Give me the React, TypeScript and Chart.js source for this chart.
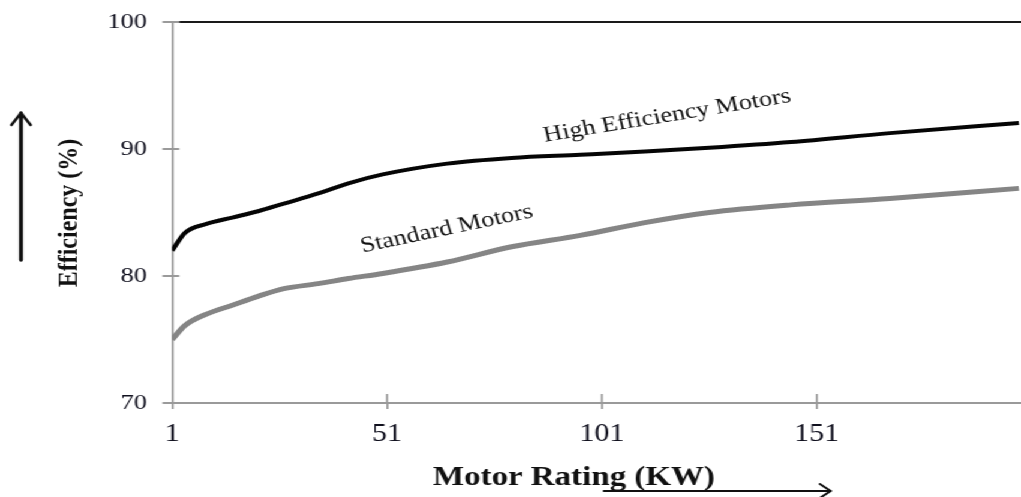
import React, { useEffect, useRef } from 'react';
import { Chart, registerables } from 'chart.js';

Chart.register(...registerables);

// ---- data ----
const ratingKW = [1, 4, 9, 15, 21, 27, 35, 42, 50, 65, 80, 96, 111, 126, 145, 168, 198];
const highEfficiency = [82.0, 83.4, 84.1, 84.6, 85.1, 85.7, 86.5, 87.3, 88.0, 88.85, 89.3, 89.55, 89.8, 90.1, 90.55, 91.25, 92.05];
const standardMotors = [75.0, 76.1, 77.0, 77.7, 78.4, 79.0, 79.4, 79.8, 80.2, 81.1, 82.3, 83.2, 84.2, 85.0, 85.6, 86.1, 86.9];
const xTickValues = [1, 51, 101, 151];
const yTickValues = [70, 80, 90, 100];
const xLabel = 'Motor Rating (KW)';
const yLabel = 'Efficiency (%)';
const highLabel = 'High Efficiency Motors';
const standardLabel = 'Standard Motors';

const W = 851;
const H = 497;
const STRETCH = 1021 / W;
const SERIF = '"Liberation Serif", "Times New Roman", serif';

const decor = {
  id: 'decor',
  afterDraw(chart: any) {
    const { ctx, chartArea: a, scales } = chart;
    const x = scales.x;
    const y = scales.y;
    const line = (x1: number, y1: number, x2: number, y2: number) => {
      ctx.beginPath();
      ctx.moveTo(x1, y1);
      ctx.lineTo(x2, y2);
      ctx.stroke();
    };
    ctx.save();
    // inner halves of the crossing tick marks
    ctx.strokeStyle = '#9a9a9a';
    ctx.lineWidth = 2;
    yTickValues.forEach((v) => {
      const py = y.getPixelForValue(v);
      line(a.left, py, a.left + 6, py);
    });
    ctx.lineWidth = 1.7;
    xTickValues.forEach((v) => {
      const px = x.getPixelForValue(v);
      if (px > a.left + 2) line(px, a.bottom, px, a.bottom - 9);
    });
    // top border
    ctx.strokeStyle = '#1a1a1a';
    ctx.lineWidth = 2;
    line(a.left + 6, a.top, a.right, a.top);

    // curve labels
    ctx.fillStyle = '#111';
    ctx.textAlign = 'center';
    ctx.textBaseline = 'middle';
    ctx.font = `22px ${SERIF}`;
    const label = (t: string, xv: number, yv: number, deg: number) => {
      ctx.save();
      ctx.translate(x.getPixelForValue(xv), y.getPixelForValue(yv));
      ctx.rotate((deg * Math.PI) / 180);
      ctx.fillText(t, 0, 0);
      ctx.restore();
    };
    label(highLabel, 116.2, 92.6, -11);
    label(standardLabel, 64.9, 83.7, -14);

    // axis titles
    ctx.font = `bold 27.5px ${SERIF}`;
    ctx.fillText(xLabel, a.left + 335, 478);
    ctx.save();
    ctx.translate(58, 213);
    ctx.rotate(-Math.PI / 2);
    ctx.font = `bold 24px ${SERIF}`;
    ctx.fillText(yLabel, 0, 0);
    ctx.restore();

    // arrows
    ctx.strokeStyle = '#111';
    ctx.lineCap = 'round';
    ctx.lineJoin = 'round';
    // x arrow
    const ax1 = a.left + 360;
    const ax2 = a.left + 549;
    const ay = 491;
    ctx.lineWidth = 2;
    line(ax1, ay, ax2, ay);
    ctx.beginPath();
    ctx.moveTo(ax2 - 9, ay - 7);
    ctx.lineTo(ax2, ay);
    ctx.lineTo(ax2 - 9, ay + 7);
    ctx.stroke();
    // y arrow
    const yx = 17.5;
    const yTop = 113;
    const yBot = 260;
    ctx.lineWidth = 3.3;
    line(yx, yBot, yx, yTop);
    ctx.lineWidth = 2.4;
    ctx.beginPath();
    ctx.moveTo(yx - 8, yTop + 12);
    ctx.lineTo(yx, yTop);
    ctx.lineTo(yx + 8, yTop + 12);
    ctx.stroke();
    ctx.restore();
  },
};

export default function App() {
  const ref = useRef<HTMLCanvasElement | null>(null);
  useEffect(() => {
    if (!ref.current) return;
    const chart = new Chart(ref.current, {
      type: 'line',
      data: {
        labels: ratingKW,
        datasets: [
          {
            label: highLabel,
            data: ratingKW.map((k, i) => ({ x: k, y: highEfficiency[i] })),
            borderColor: '#050505',
            borderWidth: 4,
            pointRadius: 0,
            cubicInterpolationMode: 'monotone',
            fill: false,
          },
          {
            label: standardLabel,
            data: ratingKW.map((k, i) => ({ x: k, y: standardMotors[i] })),
            borderColor: '#858585',
            borderWidth: 5,
            pointRadius: 0,
            cubicInterpolationMode: 'monotone',
            fill: false,
          },
        ],
      },
      options: {
        animation: false,
        responsive: false,
        devicePixelRatio: 1,
        layout: { padding: { top: 22, right: 0, left: 0, bottom: 0 } },
        plugins: {
          legend: { display: false },
          tooltip: { enabled: false },
          title: { display: false },
        },
        scales: {
          x: {
            type: 'linear',
            min: 1,
            max: 198.5,
            afterBuildTicks: (s: any) => {
              s.ticks = xTickValues.map((v) => ({ value: v }));
            },
            afterFit: (s: any) => {
              s.height = H - 403;
              s.paddingLeft = 0;
              s.paddingRight = 0;
            },
            border: { display: true, color: '#9a9a9a', width: 2 },
            grid: { drawOnChartArea: false, drawTicks: true, tickLength: 6, color: '#9a9a9a', lineWidth: 1.7 },
            ticks: {
              autoSkip: false,
              maxRotation: 0,
              padding: 10,
              color: '#10101e',
              font: { family: SERIF, size: 25 },
              callback: (v: any) => String(v),
            },
          },
          y: {
            min: 70,
            max: 100,
            afterBuildTicks: (s: any) => {
              s.ticks = yTickValues.map((v) => ({ value: v }));
            },
            afterFit: (s: any) => {
              s.width = 143.4;
              s.paddingTop = 0;
              s.paddingBottom = 0;
            },
            border: { display: true, color: '#9a9a9a', width: 1.7 },
            grid: { drawOnChartArea: false, drawTicks: true, tickLength: 8, color: '#9a9a9a', lineWidth: 2 },
            ticks: {
              padding: 13,
              color: '#10101e',
              font: { family: SERIF, size: 22 },
              callback: (v: any) => String(v),
            },
          },
        },
      },
      plugins: [decor],
    } as any);
    return () => chart.destroy();
  }, []);

  return (
    <div
      style={{
        position: 'fixed',
        left: 0,
        top: 0,
        width: W,
        height: H,
        transform: `scaleX(${STRETCH})`,
        transformOrigin: '0 0',
        background: '#fff',
      }}
    >
      <canvas ref={ref} width={W} height={H} style={{ display: 'block' }} />
    </div>
  );
}
